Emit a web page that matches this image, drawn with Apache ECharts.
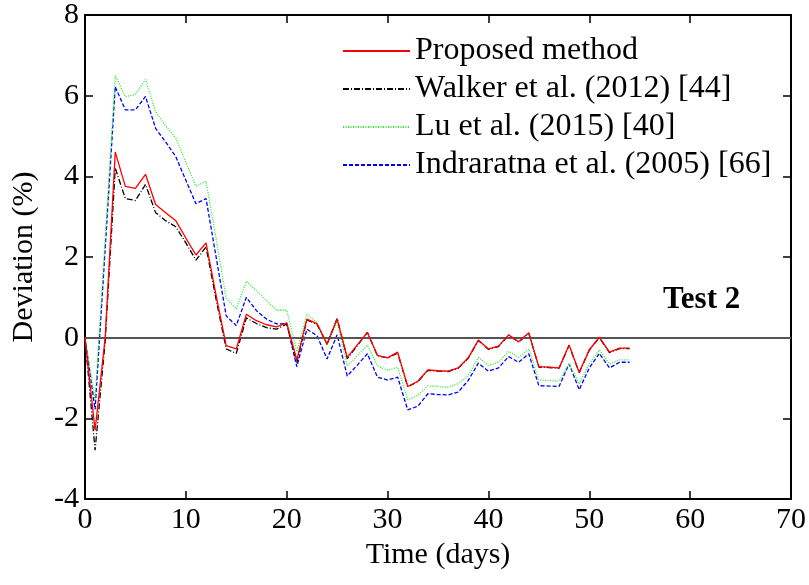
<!DOCTYPE html>
<html>
<head>
<meta charset="utf-8">
<script src="https://cdn.jsdelivr.net/npm/echarts@6/dist/echarts.min.js"></script>
<style>
  html, body { margin: 0; padding: 0; background: #fff; }
  #chart { width: 809px; height: 585px; }
</style>
</head>
<body>
<div id="chart"></div>
<script>
// time in days, one reading per day
const days = [
  0, 1, 2, 3, 4, 5, 6, 7, 8, 9, 10, 11, 12, 13, 14, 15, 16, 17, 18, 19,
  20, 21, 22, 23, 24, 25, 26, 27, 28, 29, 30, 31, 32, 33, 34, 35, 36, 37, 38, 39,
  40, 41, 42, 43, 44, 45, 46, 47, 48, 49, 50, 51, 52, 53, 54
];

const proposed = [
  0, -2.3, 0.0, 4.6, 3.75, 3.7, 4.05, 3.3, 3.1, 2.9, 2.47, 2.05, 2.35, 1.05, -0.2, -0.28, 0.58, 0.42, 0.32, 0.27,
  0.37, -0.55, 0.46, 0.35, -0.16, 0.46, -0.49, -0.18, 0.13, -0.44, -0.5, -0.36, -1.21, -1.08, -0.8, -0.82, -0.83, -0.75, -0.5, -0.06,
  -0.28, -0.21, 0.07, -0.1, 0.12, -0.72, -0.73, -0.75, -0.18, -0.86, -0.3, 0.01, -0.36, -0.26, -0.26
];

const walker = [
  0, -2.79, -0.1, 4.2, 3.45, 3.4, 3.8, 3.1, 2.9, 2.75, 2.35, 1.92, 2.25, 0.95, -0.28, -0.39, 0.49, 0.35, 0.25, 0.21,
  0.34, -0.62, 0.44, 0.33, -0.16, 0.48, -0.52, -0.2, 0.13, -0.45, -0.5, -0.38, -1.22, -1.09, -0.81, -0.83, -0.84, -0.76, -0.51, -0.07,
  -0.29, -0.22, 0.06, -0.11, 0.11, -0.73, -0.74, -0.76, -0.19, -0.87, -0.31, 0.0, -0.37, -0.27, -0.27
];

const lu = [
  0, -1.55, 2.45, 6.5, 5.97, 6.03, 6.4, 5.6, 5.25, 4.95, 4.35, 3.75, 3.88, 2.45, 0.98, 0.71, 1.4, 1.16, 0.92, 0.68,
  0.68, -0.35, 0.58, 0.38, -0.19, 0.4, -0.7, -0.45, -0.18, -0.7, -0.81, -0.73, -1.54, -1.43, -1.19, -1.21, -1.23, -1.14, -0.94, -0.49,
  -0.69, -0.61, -0.34, -0.49, -0.28, -1.05, -1.06, -1.08, -0.64, -1.15, -0.65, -0.3, -0.65, -0.55, -0.55
];

const indraratna = [
  0, -1.78, 2.2, 6.22, 5.65, 5.65, 5.98, 5.19, 4.85, 4.49, 3.9, 3.32, 3.45, 2.0, 0.54, 0.3, 1.0, 0.67, 0.46, 0.34,
  0.35, -0.72, 0.21, 0.05, -0.53, 0.07, -0.95, -0.68, -0.4, -0.98, -1.05, -0.98, -1.79, -1.7, -1.39, -1.41, -1.42, -1.35, -1.06, -0.63,
  -0.83, -0.75, -0.47, -0.61, -0.4, -1.19, -1.2, -1.21, -0.65, -1.29, -0.75, -0.39, -0.75, -0.61, -0.61
];

const seriesNames = [
  'Proposed method',
  'Walker et al. (2012) [44]',
  'Lu et al. (2015) [40]',
  'Indraratna et al. (2005) [66]'
];

const font = '"Liberation Serif", "Times New Roman", serif';

const chart = echarts.init(document.getElementById('chart'), null, { renderer: 'canvas' });

const pairs = arr => days.map((d, i) => [d, arr[i]]);

const mkLine = (name, arr, color, type, z) => ({
  name: name,
  type: 'line',
  data: pairs(arr),
  symbol: 'none',
  showSymbol: false,
  z: z,
  lineStyle: { color: color, width: 1.3, type: type },
  itemStyle: { color: color },
  animation: false
});

const axisCommon = {
  axisLine: { show: true, onZero: false, lineStyle: { color: '#000', width: 2 } },
  axisTick: { show: true, inside: true, length: 8, lineStyle: { color: '#000', width: 1.5 } },
  splitLine: { show: false }
};

const option = {
  backgroundColor: '#fff',
  animation: false,
  grid: { left: 85, right: 18, top: 12, bottom: 86 },
  legend: {
    orient: 'vertical',
    left: 337,
    top: 30,
    itemWidth: 67,
    itemHeight: 14,
    itemGap: 6,
    data: seriesNames,
    itemStyle: { color: 'transparent', borderColor: 'transparent', borderWidth: 0 },
    textStyle: { fontFamily: font, fontSize: 32, color: '#000', lineHeight: 32 }
  },
  xAxis: [
    Object.assign({
      type: 'value', min: 0, max: 70, interval: 10, position: 'bottom',
      name: 'Time (days)', nameLocation: 'middle', nameGap: 38,
      nameTextStyle: { fontFamily: font, fontSize: 30, color: '#000' },
      axisLabel: { fontFamily: font, fontSize: 30, color: '#000', margin: 6 }
    }, axisCommon),
    Object.assign({
      type: 'value', min: 0, max: 70, interval: 10, position: 'top',
      axisLabel: { show: false }
    }, axisCommon)
  ],
  yAxis: [
    Object.assign({
      type: 'value', min: -4, max: 8, interval: 2, position: 'left',
      name: 'Deviation (%)', nameLocation: 'middle', nameGap: 46,
      nameTextStyle: { fontFamily: font, fontSize: 30, color: '#000' },
      axisLabel: { fontFamily: font, fontSize: 30, color: '#000', margin: 6 }
    }, axisCommon),
    Object.assign({
      type: 'value', min: -4, max: 8, interval: 2, position: 'right',
      axisLabel: { show: false }
    }, axisCommon)
  ],
  graphic: [{
    type: 'text',
    left: 663,
    top: 284,
    style: { text: 'Test 2', font: 'bold 31px ' + font, fill: '#000' }
  }],
  series: [
    Object.assign(mkLine(seriesNames[0], proposed, '#ff0000', 'solid', 5), {
      markLine: {
        silent: true,
        symbol: 'none',
        label: { show: false },
        lineStyle: { color: '#555', width: 2, type: 'solid' },
        data: [{ yAxis: 0 }]
      }
    }),
    mkLine(seriesNames[1], walker, '#000000', [6, 2, 1, 2], 4),
    mkLine(seriesNames[2], lu, '#22ee22', [1, 1.5], 3),
    mkLine(seriesNames[3], indraratna, '#0000ff', [4, 2], 2)
  ]
};

chart.setOption(option);
</script>
</body>
</html>
